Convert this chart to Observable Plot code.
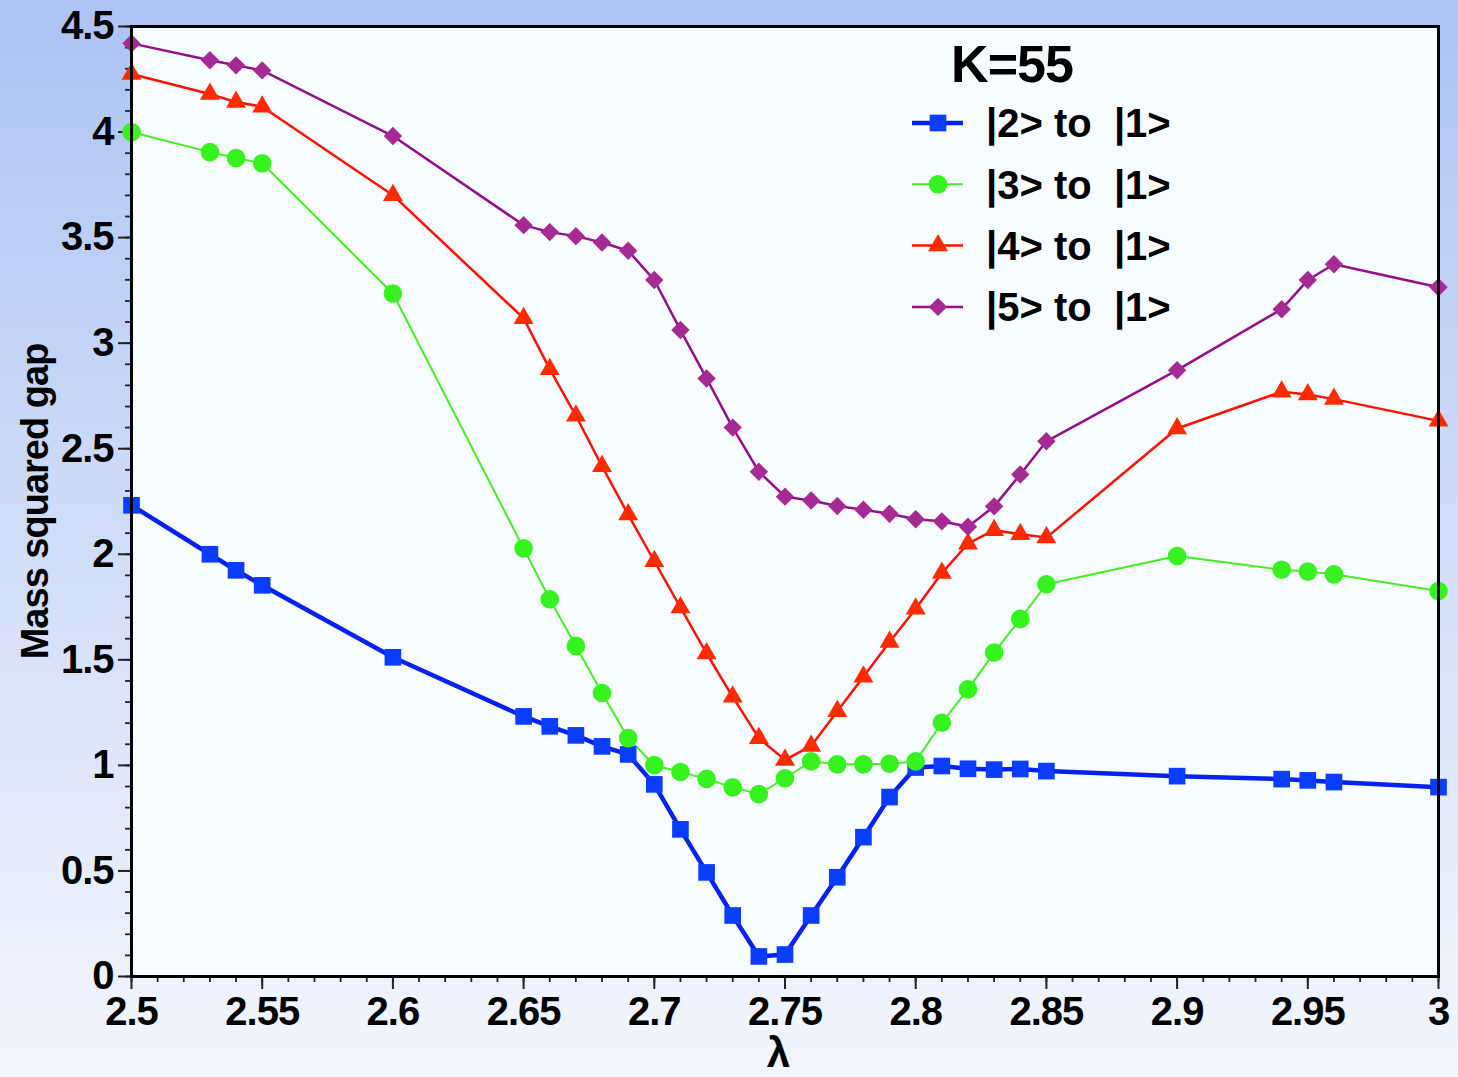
<!DOCTYPE html>
<html>
<head>
<meta charset="utf-8">
<script src="https://cdn.jsdelivr.net/npm/d3@7"></script>
<script src="https://cdn.jsdelivr.net/npm/@observablehq/plot@0.6"></script>
<style>
  html, body { margin: 0; padding: 0; }
  body {
    width: 1458px; height: 1077px; overflow: hidden;
    background: linear-gradient(to bottom, #acc3f4 0%, #c9d8f7 40%, #f3f6fd 100%);
    font-family: "Liberation Sans", Arial, Helvetica, sans-serif;
  }
  #wrap { position: relative; width: 1458px; height: 1077px; }
  #legend { position: absolute; left: 0; top: 0; pointer-events: none; }
</style>
</head>
<body>
<div id="wrap"></div>
<script>
// ---- data ----
const lambda = [2.5, 2.53, 2.54, 2.55, 2.6, 2.65, 2.66, 2.67, 2.68, 2.69, 2.7, 2.71, 2.72, 2.73, 2.74,
                2.75, 2.76, 2.77, 2.78, 2.79, 2.8, 2.81, 2.82, 2.83, 2.84, 2.85, 2.9, 2.94, 2.95, 2.96, 3.0];
const gap21 = [2.232, 2.0, 1.924, 1.853, 1.512, 1.232, 1.185, 1.142, 1.09, 1.052, 0.91, 0.697, 0.493, 0.289, 0.095,
               0.104, 0.289, 0.47, 0.66, 0.85, 0.99, 0.997, 0.984, 0.98, 0.983, 0.973, 0.949, 0.935, 0.929, 0.921, 0.897];
const gap31 = [4.0, 3.905, 3.877, 3.852, 3.235, 2.028, 1.787, 1.566, 1.343, 1.129, 1.001, 0.969, 0.936, 0.896, 0.864,
               0.939, 1.019, 1.005, 1.005, 1.008, 1.019, 1.202, 1.36, 1.534, 1.694, 1.858, 1.992, 1.927, 1.918, 1.905, 1.826];
const gap41 = [4.275, 4.18, 4.142, 4.12, 3.701, 3.118, 2.877, 2.656, 2.417, 2.188, 1.967, 1.748, 1.53, 1.325, 1.129,
               1.026, 1.092, 1.256, 1.42, 1.584, 1.742, 1.911, 2.05, 2.114, 2.095, 2.079, 2.596, 2.77, 2.757, 2.735, 2.632];
const gap51 = [4.42, 4.34, 4.316, 4.292, 3.981, 3.559, 3.526, 3.507, 3.477, 3.438, 3.299, 3.062, 2.833, 2.6, 2.391,
               2.273, 2.255, 2.229, 2.211, 2.192, 2.166, 2.156, 2.13, 2.227, 2.378, 2.535, 2.872, 3.161, 3.299, 3.374, 3.265];

const xTicks = [2.5, 2.55, 2.6, 2.65, 2.7, 2.75, 2.8, 2.85, 2.9, 2.95, 3];
const yTicks = [0, 0.5, 1, 1.5, 2, 2.5, 3, 3.5, 4, 4.5];
const legendTitle = "K=55";
const seriesNames = ["|2> to  |1>", "|3> to  |1>", "|4> to  |1>", "|5> to  |1>"];
const xLabel = "λ";
const yLabel = "Mass squared gap";

// ---- styles ----
const series = [
  {name: seriesNames[0], values: gap21, line: "#0722ee", fill: "#0a3dff", lw: 4.5, symbol: "square",   r: 9.4},
  {name: seriesNames[1], values: gap31, line: "#44ee22", fill: "#36f21e", lw: 2,   symbol: "circle",   r: 9.3},
  {name: seriesNames[2], values: gap41, line: "#ff1000", fill: "#ff2a00", lw: 2.5, symbol: "triangle", r: 7.4},
  {name: seriesNames[3], values: gap51, line: "#960e8a", fill: "#a52a93", lw: 2.5, symbol: "diamond2", r: 8.3}
];

const rows = series.map(s => lambda.map((l, i) => ({lambda: l, v: s.values[i]})));

const xMinor = d3.range(250, 301).map(i => i / 100);
const yMinor = d3.range(0, 46).map(i => i / 10);
const fmt = d => String(+(+d).toFixed(2));

const marks = [
  Plot.frame({fill: "#f7fdff", stroke: "none"}),
  Plot.axisX({ticks: xMinor, tickSize: 6, tickFormat: () => "", stroke: "#222", strokeWidth: 1.8}),
  Plot.axisX({ticks: xTicks, tickSize: 13, tickPadding: 7, tickFormat: fmt, stroke: "#222", strokeWidth: 2, fill: "#000"}),
  Plot.axisY({ticks: yMinor, tickSize: 6, tickFormat: () => "", stroke: "#222", strokeWidth: 1.8}),
  Plot.axisY({ticks: yTicks, tickSize: 13, tickPadding: 5, tickFormat: fmt, stroke: "#222", strokeWidth: 2, fill: "#000"}),
];
series.forEach((s, k) => {
  marks.push(Plot.line(rows[k], {x: "lambda", y: "v", stroke: s.line, strokeWidth: s.lw}));
});
series.forEach((s, k) => {
  marks.push(Plot.dot(rows[k], {x: "lambda", y: "v", symbol: () => s.symbol, r: s.r, fill: s.fill, stroke: "none"}));
});
marks.push(Plot.frame({stroke: "#000", strokeWidth: 3}));
marks.push(Plot.text([yLabel], {frameAnchor: "left", textAnchor: "middle", lineAnchor: "middle", rotate: -90, dx: -96,
  text: d => d, fontSize: 38, fontWeight: "bold", fill: "#000"}));
marks.push(Plot.text([xLabel], {frameAnchor: "bottom", lineAnchor: "middle", dy: 77, dx: -7, text: d => d,
  fontSize: 42, fontWeight: "bold", fill: "#000"}));

const chart = Plot.plot({
  width: 1458, height: 1077,
  marginLeft: 131, marginRight: 20, marginTop: 26, marginBottom: 101,
  x: {domain: [2.5, 3], label: null},
  y: {domain: [0, 4.5], label: null},
  symbol: {type: "identity"},
  style: {background: "transparent", fontFamily: "'Liberation Sans', Arial, sans-serif", fontSize: "40px",
          fontWeight: "bold", letterSpacing: "-1px", overflow: "visible"},
  marks
});
document.getElementById("wrap").appendChild(chart);

// ---- legend (overlay) ----
const leg = d3.select("#wrap").append("svg").attr("id", "legend")
  .attr("width", 1458).attr("height", 1077)
  .style("font-family", "'Liberation Sans', Arial, sans-serif");
leg.append("text").attr("x", 1012).attr("y", 82).attr("text-anchor", "middle")
  .attr("font-size", 52).attr("font-weight", "bold").attr("letter-spacing", "-1px").attr("fill", "#000").text(legendTitle);
const symMap = {square: d3.symbolSquare, circle: d3.symbolCircle, triangle: d3.symbolTriangle, diamond2: d3.symbolDiamond2};
series.forEach((s, k) => {
  const cy = 123 + k * 61.3;
  const g = leg.append("g");
  g.append("line").attr("x1", 912).attr("x2", 963).attr("y1", cy).attr("y2", cy)
    .attr("stroke", s.line).attr("stroke-width", s.lw);
  g.append("path").attr("transform", `translate(938,${cy})`)
    .attr("d", d3.symbol(symMap[s.symbol], Math.PI * s.r * s.r)()).attr("fill", s.fill);
  g.append("text").attr("x", 986).attr("y", cy).attr("dy", "0.36em")
    .attr("font-size", 40).attr("font-weight", "bold").attr("fill", "#000")
    .attr("xml:space", "preserve").style("white-space", "pre").text(s.name);
});
</script>
</body>
</html>
